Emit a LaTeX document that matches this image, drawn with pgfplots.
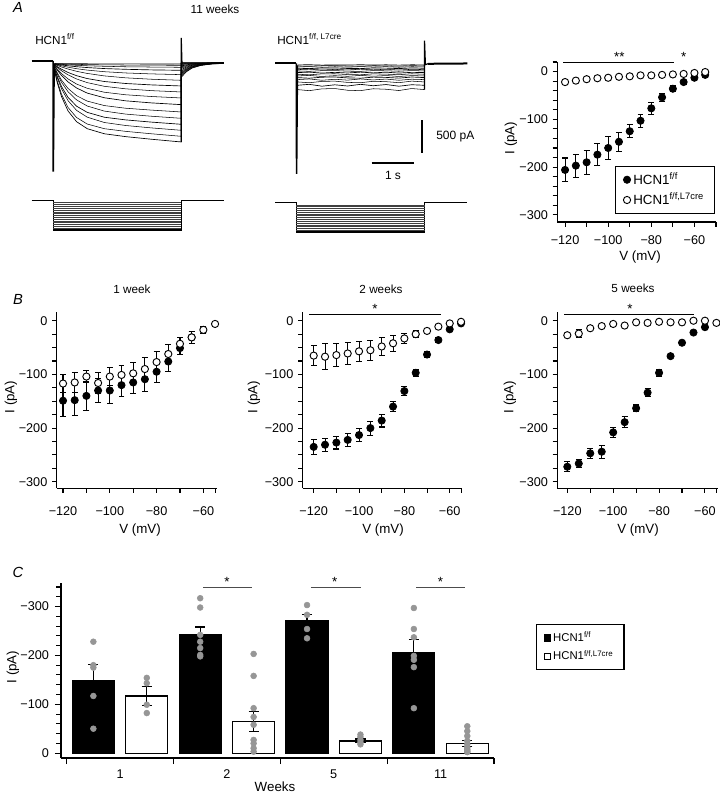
\documentclass[border=0pt]{standalone}
\usepackage{fontspec}
\setmainfont{Liberation Sans}
\usepackage{pgfplots}
\pgfplotsset{compat=1.18}
\usepackage{pgfplotstable}
\definecolor{dotgray}{RGB}{150,150,150}
\newcommand{\fs}[1]{\fontsize{#1}{#1}\selectfont}

\pgfplotsset{
  ivaxis/.style={scale only axis, axis lines=left, axis line style={-, line width=0.8pt},
    tick align=outside, major tick length=3.5pt, minor tick length=3.5pt,
    tick style={line width=0.8pt, black}, clip=false,
    tick label style={font=\fs{9.5}},
    xtick={-120,-100,-80,-60}, xticklabels={−120,−100,−80,−60},
    ytick={-300,-200,-100,0}, yticklabels={−300,−200,−100,0}},
  filledpts/.style={only marks, mark=*, mark size=2.7pt, black, mark options={fill=black, line width=0.6pt},
    error bars/.cd, y dir=both, y explicit, error bar style={line width=0.8pt, black},
    error mark options={rotate=90, mark size=2.2pt, line width=0.8pt, black}},
  openpts/.style={only marks, mark=*, mark size=2.7pt, black, mark options={fill=white, line width=0.7pt},
    error bars/.cd, y dir=both, y explicit, error bar style={line width=0.8pt, black},
    error mark options={rotate=90, mark size=2.2pt, line width=0.8pt, black}},
  traceaxis/.style={scale only axis, hide axis, clip=false, xmin=-0.5, xmax=4, ymin=-1700, ymax=400,
    width=144.2pt, height=105pt, cycle list={{black, mark=none, line width=0.5pt}}},
  voltaxis/.style={scale only axis, hide axis, clip=false, xmin=-0.5, xmax=4, ymin=-125, ymax=-35,
    width=144.2pt, cycle list={{black, mark=none}}},
}

% ---------- data ----------
\pgfplotstableread{
V I E
-120 -206 25
-115 -197 24
-110 -190 25
-105 -174 23
-100 -160 24
-95 -147 20
-90 -125 14
-85 -103 14
-80 -77 12
-75 -54 9
-70 -36 6
-65 -22 4
-60 -13 3
-55 -7 2
}\aF
\pgfplotstableread{
V I E
-120 -22 2
-115 -19 2
-110 -16 2
-105 -14 2
-100 -13 2
-95 -11 2
-90 -10 2
-85 -8 2
-80 -8 2
-75 -7 2
-70 -6 2
-65 -5 2
-60 -3 2
-55 -1 2
}\aO
\pgfplotstableread{
V I E
-120 -149 30
-115 -148 29
-110 -140 27
-105 -130 22
-100 -130 24
-95 -120 21
-90 -115 20
-85 -109 22
-80 -95 20
-75 -76 19
-70 -51 12
-65 -31 11
}\bAF
\pgfplotstableread{
V I E
-120 -117 17
-115 -115 19
-110 -104 11
-105 -116 20
-100 -104 17
-95 -101 18
-90 -98 21
-85 -90 21
-80 -77 19
-75 -62 18
-70 -43 12
-65 -31 11
-60 -17 6
-55 -6 3
}\bAO
\pgfplotstableread{
V I E
-120 -235 14
-115 -231 12
-110 -227 12
-105 -222 12
-100 -213 12
-95 -200 13
-90 -186 12
-85 -160 9
-80 -131 8
-75 -97 7
-70 -63 5
-65 -36 4
-60 -16 3
-55 -5 2
}\bBF
\pgfplotstableread{
V I E
-120 -65 19
-115 -67 24
-110 -64 22
-105 -61 20
-100 -57 19
-95 -55 19
-90 -48 17
-85 -42 15
-80 -33 9
-75 -25 7
-70 -19 4
-65 -11 3
-60 -5 2
-55 -2 2
}\bBO
\pgfplotstableread{
V I E
-120 -272 9
-115 -266 8
-110 -247 9
-105 -244 12
-100 -208 9
-95 -189 10
-90 -163 6
-85 -134 8
-80 -97 7
-75 -66 5
-70 -41 3
-65 -22 3
-60 -12 2
}\bCF
\pgfplotstableread{
V I E
-120 -27 3
-115 -24 8
-110 -14 3
-105 -10 2
-100 -6 2
-95 -9 2
-90 -3 2
-85 -4 2
-80 -2 2
-75 -3 2
-70 -3 2
-65 0 2
-60 0 2
-55 -4 2
}\bCO
\pgfplotstableread{
x y e
-0.25 -149 32
0.75 -242 16
1.75 -271 13
2.75 -206 26
}\cF
\pgfplotstableread{
x y e
0.25 -117 19
1.25 -65 20
2.25 -25 4
3.25 -20 6
}\cO
\pgfplotstableread{
x y
-0.25 -228
-0.25 -180
-0.25 -175
-0.25 -117
-0.25 -50
0.25 -154
0.25 -143
0.25 -99
0.25 -82
0.75 -317
0.75 -298
0.75 -242
0.75 -228
0.75 -215
0.75 -201
0.75 -198
1.25 -203
1.25 -158
1.25 -92
1.25 -74
1.25 -58
1.25 -27
1.25 -20
1.25 -10
1.25 -3
1.75 -303
1.75 -283
1.75 -254
1.75 -235
2.25 -38
2.25 -33
2.25 -27
2.25 -22
2.25 -18
2.75 -297
2.75 -254
2.75 -237
2.75 -199
2.75 -191
2.75 -176
2.75 -92
3.25 -55
3.25 -45
3.25 -35
3.25 -25
3.25 -18
3.25 -12
3.25 -8
3.25 -5
3.25 -3
3.25 -2
}\cD

\begin{document}
\begin{tikzpicture}[x=0.75pt, y=-0.75pt]
\path[use as bounding box] (0,0) rectangle (720,799);

% ---------------- texts ----------------
\node[font=\fs{11}\itshape] at (18,7) {A};
\node[font=\fs{8.8}] at (215,9) {11 weeks};
\node[anchor=base west, font=\fs{8.8}, inner sep=0] at (35,45) {HCN1\textsuperscript{f/f}};
\node[anchor=base west, font=\fs{8.8}, inner sep=0] at (277,45) {HCN1\textsuperscript{f/f, L7cre}};
\node[anchor=west, font=\fs{9}, inner sep=0] at (436,137) {500 pA};
\node[font=\fs{9}] at (393,175) {1 s};
\draw[line width=1.5pt] (421.7,120) -- (421.7,153.3);
\draw[line width=1.5pt] (371.7,162.7) -- (414.3,162.7);

\node[font=\fs{11}\itshape] at (18,299) {B};
\node[font=\fs{8.8}] at (132,289) {1 week};
\node[font=\fs{8.8}] at (381,289) {2 weeks};
\node[font=\fs{8.8}] at (633,288) {5 weeks};
\node[font=\fs{11}\itshape] at (18,572) {C};

\node[font=\fs{10}, rotate=90] at (511,138) {I (pA)};
\node[font=\fs{10}] at (640,257.5) {V (mV)};
\node[font=\fs{10}, rotate=90] at (11,397) {I (pA)};
\node[font=\fs{10}, rotate=90] at (254,397) {I (pA)};
\node[font=\fs{10}, rotate=90] at (510,397) {I (pA)};
\node[font=\fs{10}] at (140,530) {V (mV)};
\node[font=\fs{10}] at (383,530) {V (mV)};
\node[font=\fs{10}] at (638,530) {V (mV)};
\node[font=\fs{10}, rotate=90] at (13,667) {I (pA)};
\node[font=\fs{10}] at (275,787) {Weeks};

% ---------------- A: traces HCN1 f/f ----------------
\begin{axis}[traceaxis, at={(31.7*0.75pt,-174.3*0.75pt)}, anchor=south west]
\addplot[black, line width=1.5pt] coordinates {(-0.5,0)(0,0)};
\addplot[black, line width=1.2pt] coordinates {(0,0)(0.005,-1660)(0.025,-45)};
\addplot coordinates {(0.03,-136)(0.1,-329)(0.2,-538)(0.35,-749)(0.55,-911)(0.8,-1016)(1.2,-1092)(1.7,-1135)(2.3,-1174)(3.0,-1215)(3.0,-243)(3.12,-162)(3.25,-107)(3.45,-68)(3.7,-45)(4.0,-34)};
\addplot coordinates {(0.03,-129)(0.1,-308)(0.2,-502)(0.35,-697)(0.55,-848)(0.8,-946)(1.2,-1016)(1.7,-1056)(2.3,-1092)(3.0,-1130)(3.0,-226)(3.12,-152)(3.25,-101)(3.45,-65)(3.7,-44)(4.0,-34)};
\addplot coordinates {(0.03,-111)(0.1,-257)(0.2,-420)(0.35,-595)(0.55,-741)(0.8,-843)(1.2,-923)(1.7,-968)(2.3,-1004)(3.0,-1040)(3.0,-208)(3.12,-140)(3.25,-94)(3.45,-62)(3.7,-42)(4.0,-34)};
\addplot coordinates {(0.03,-105)(0.1,-237)(0.2,-386)(0.35,-545)(0.55,-678)(0.8,-771)(1.2,-844)(1.7,-884)(2.3,-917)(3.0,-950)(3.0,-190)(3.12,-129)(3.25,-88)(3.45,-59)(3.7,-41)(4.0,-33)};
\addplot coordinates {(0.03,-92)(0.1,-198)(0.2,-322)(0.35,-461)(0.55,-584)(0.8,-676)(1.2,-752)(1.7,-797)(2.3,-829)(3.0,-860)(3.0,-172)(3.12,-118)(3.25,-81)(3.45,-56)(3.7,-40)(4.0,-33)};
\addplot coordinates {(0.03,-86)(0.1,-180)(0.2,-289)(0.35,-412)(0.55,-521)(0.8,-602)(1.2,-669)(1.7,-709)(2.3,-737)(3.0,-765)(3.0,-153)(3.12,-106)(3.25,-74)(3.45,-52)(3.7,-39)(4.0,-32)};
\addplot coordinates {(0.03,-71)(0.1,-138)(0.2,-219)(0.35,-314)(0.55,-405)(0.8,-482)(1.2,-552)(1.7,-598)(2.3,-629)(3.0,-655)(3.0,-131)(3.12,-93)(3.25,-66)(3.45,-48)(3.7,-37)(4.0,-32)};
\addplot coordinates {(0.03,-66)(0.1,-122)(0.2,-190)(0.35,-269)(0.55,-346)(0.8,-410)(1.2,-469)(1.7,-507)(2.3,-533)(3.0,-555)(3.0,-111)(3.12,-80)(3.25,-59)(3.45,-45)(3.7,-36)(4.0,-32)};
\addplot coordinates {(0.03,-58)(0.1,-98)(0.2,-148)(0.35,-208)(0.55,-270)(0.8,-325)(1.2,-380)(1.7,-418)(2.3,-445)(3.0,-465)(3.0,-93)(3.12,-69)(3.25,-53)(3.45,-41)(3.7,-34)(4.0,-31)};
\addplot coordinates {(0.03,-54)(0.1,-86)(0.2,-125)(0.35,-172)(0.55,-221)(0.8,-264)(1.2,-308)(1.7,-338)(2.3,-359)(3.0,-375)(3.0,-75)(3.12,-58)(3.25,-46)(3.45,-38)(3.7,-33)(4.0,-31)};
\addplot coordinates {(0.03,-49)(0.1,-67)(0.2,-91)(0.35,-121)(0.55,-155)(0.8,-187)(1.2,-224)(1.7,-253)(2.3,-274)(3.0,-290)(3.0,-58)(3.12,-47)(3.25,-40)(3.45,-35)(3.7,-32)(4.0,-31)};
\addplot coordinates {(0.03,-46)(0.1,-58)(0.2,-73)(0.35,-93)(0.55,-116)(0.8,-137)(1.2,-161)(1.7,-180)(2.3,-194)(3.0,-205)(3.0,-41)(3.12,-37)(3.25,-34)(3.45,-32)(3.7,-31)(4.0,-30)};
\addplot coordinates {(0.03,-43)(0.1,-51)(0.2,-60)(0.35,-72)(0.55,-86)(0.8,-99)(1.2,-114)(1.7,-125)(2.3,-134)(3.0,-140)(3.0,-30)(4.0,-30)};
\addplot coordinates {(0.03,-42)(0.1,-46)(0.2,-51)(0.35,-58)(0.55,-65)(0.8,-72)(1.2,-80)(1.7,-87)(2.3,-91)(3.0,-95)(3.0,-30)(4.0,-30)};
\addplot coordinates {(0.03,-41)(0.1,-43)(0.2,-45)(0.35,-48)(0.55,-51)(0.8,-55)(1.2,-58)(1.7,-61)(2.3,-63)(3.0,-65)(3.0,-30)(4.0,-30)};
\addplot coordinates {(0.03,-40)(0.2,-41)(0.8,-43)(1.7,-44)(3.0,-45)(3.0,-30)(4.0,-30)};
\addplot[black, line width=0.9pt] coordinates {(3.0,-1215)(3.0,345)(3.02,-100)};
\addplot[black, line width=1.3pt] coordinates {(3.6,-38)(4.0,-30)};
\end{axis}

% ---------------- A: traces HCN1 f/f, L7cre ----------------
\begin{axis}[traceaxis, at={(275*0.75pt,-176.6*0.75pt)}, anchor=south west]
\addplot[black, line width=1.5pt] coordinates {(-0.5,0)(0,0)};
\addplot[black, line width=1.2pt] coordinates {(0,0)(0.005,-1660)(0.025,-30)};
\addplot coordinates {(0.03,-25)(0.3,-22)(0.6,-28)(0.9,-24)(1.2,-27)(1.5,-22)(1.8,-27)(2.1,-23)(2.4,-28)(2.7,-23)(3.0,-25)};
\addplot coordinates {(0.03,-40)(0.3,-44)(0.6,-37)(0.9,-36)(1.2,-42)(1.5,-44)(1.8,-37)(2.1,-39)(2.4,-44)(2.7,-36)(3.0,-40)};
\addplot coordinates {(0.03,-55)(0.3,-50)(0.6,-60)(0.9,-52)(1.2,-59)(1.5,-50)(1.8,-57)(2.1,-51)(2.4,-60)(2.7,-52)(3.0,-55)};
\addplot coordinates {(0.03,-75)(0.3,-80)(0.6,-71)(0.9,-70)(1.2,-78)(1.5,-80)(1.8,-71)(2.1,-73)(2.4,-80)(2.7,-70)(3.0,-75)};
\addplot coordinates {(0.03,-95)(0.3,-89)(0.6,-101)(0.9,-92)(1.2,-100)(1.5,-89)(1.8,-98)(2.1,-90)(2.4,-101)(2.7,-91)(3.0,-95)};
\addplot coordinates {(0.03,-115)(0.3,-121)(0.6,-111)(0.9,-109)(1.2,-119)(1.5,-121)(1.8,-110)(2.1,-113)(2.4,-120)(2.7,-109)(3.0,-115)};
\addplot coordinates {(0.03,-140)(0.3,-133)(0.6,-147)(0.9,-136)(1.2,-146)(1.5,-133)(1.8,-144)(2.1,-134)(2.4,-147)(2.7,-136)(3.0,-140)};
\addplot coordinates {(0.03,-165)(0.3,-173)(0.6,-159)(0.9,-157)(1.2,-170)(1.5,-173)(1.8,-159)(2.1,-163)(2.4,-172)(2.7,-157)(3.0,-165)};
\addplot coordinates {(0.03,-190)(0.3,-182)(0.6,-198)(0.9,-186)(1.2,-196)(1.5,-182)(1.8,-194)(2.1,-184)(2.4,-198)(2.7,-185)(3.0,-190)};
\addplot coordinates {(0.03,-215)(0.3,-224)(0.6,-209)(0.9,-206)(1.2,-220)(1.5,-224)(1.8,-208)(2.1,-212)(2.4,-223)(2.7,-206)(3.0,-215)};
\addplot coordinates {(0.03,-245)(0.3,-235)(0.6,-255)(0.9,-240)(1.2,-253)(1.5,-235)(1.8,-250)(2.1,-237)(2.4,-255)(2.7,-239)(3.0,-245)};
\addplot coordinates {(0.03,-280)(0.3,-292)(0.6,-272)(0.9,-268)(1.2,-287)(1.5,-292)(1.8,-270)(2.1,-276)(2.4,-291)(2.7,-268)(3.0,-280)};
\addplot coordinates {(0.03,-330)(0.3,-316)(0.6,-344)(0.9,-323)(1.2,-341)(1.5,-316)(1.8,-337)(2.1,-319)(2.4,-344)(2.7,-322)(3.0,-330)};
\addplot coordinates {(0.03,-395)(0.3,-411)(0.6,-384)(0.9,-379)(1.2,-405)(1.5,-411)(1.8,-382)(2.1,-390)(2.4,-409)(2.7,-379)(3.0,-395)};
\addplot[black, line width=0.9pt] coordinates {(3.0,-395)(3.0,340)(3.02,-20)(3.08,-8)};
\addplot[black, line width=1.5pt] coordinates {(3.08,-8)(4.0,-3)};
\end{axis}

% ---------------- A: voltage protocols ----------------
\begin{axis}[voltaxis, at={(31.7*0.75pt,-231.8*0.75pt)}, anchor=south west, height=24.7pt]
\addplot[black, line width=0.8pt] coordinates {(-0.5,-40)(0,-40)(0,-120)(3,-120)(3,-40)(4,-40)};
\addplot[black!75, line width=0.25pt, unbounded coords=jump] coordinates {(0,-45)(3,-45)(0,nan)(0,-50)(3,-50)(0,nan)(0,-55)(3,-55)(0,nan)(0,-60)(3,-60)(0,nan)(0,-65)(3,-65)(0,nan)(0,-70)(3,-70)(0,nan)(0,-75)(3,-75)(0,nan)(0,-80)(3,-80)(0,nan)(0,-85)(3,-85)(0,nan)(0,-90)(3,-90)(0,nan)(0,-95)(3,-95)(0,nan)(0,-100)(3,-100)(0,nan)(0,-105)(3,-105)(0,nan)(0,-110)(3,-110)(0,nan)(0,-115)(3,-115)};
\end{axis}
\begin{axis}[voltaxis, at={(275*0.75pt,-233.8*0.75pt)}, anchor=south west, height=24.5pt]
\addplot[black, line width=0.8pt] coordinates {(-0.5,-40)(0,-40)(0,-120)(3,-120)(3,-40)(4,-40)};
\addplot[black!75, line width=0.25pt, unbounded coords=jump] coordinates {(0,-45)(3,-45)(0,nan)(0,-50)(3,-50)(0,nan)(0,-55)(3,-55)(0,nan)(0,-60)(3,-60)(0,nan)(0,-65)(3,-65)(0,nan)(0,-70)(3,-70)(0,nan)(0,-75)(3,-75)(0,nan)(0,-80)(3,-80)(0,nan)(0,-85)(3,-85)(0,nan)(0,-90)(3,-90)(0,nan)(0,-95)(3,-95)(0,nan)(0,-100)(3,-100)(0,nan)(0,-105)(3,-105)(0,nan)(0,-110)(3,-110)(0,nan)(0,-115)(3,-115)};
\end{axis}

% ---------------- A: I-V 11 weeks ----------------
\begin{axis}[ivaxis, at={(557.3*0.75pt,-222*0.75pt)}, anchor=south west, width=119pt, height=120pt,
  xmin=-123.6, xmax=-50, ymin=-315, ymax=20,
  xticklabel style={yshift=-3.5pt},
  minor xtick={-110,-90,-70,-50},
  minor ytick={-280,-260,-240,-220,-180,-160,-140,-120,-80,-60,-40,-20,20},
  legend style={at={(0.995,0.05)}, anchor=south east, draw=black, line width=0.8pt, font=\fs{10}, row sep=1pt, inner xsep=6pt, inner ysep=3pt},
  legend cell align=left]
\addplot[filledpts] table[x=V, y=I, y error=E] {\aF};
\addlegendentry{HCN1\textsuperscript{f/f}}
\addplot[openpts] table[x=V, y=I, y error=E] {\aO};
\addlegendentry{HCN1\textsuperscript{f/f,L7cre}}
\draw[line width=0.8pt] (axis cs:-120.8,19) -- (axis cs:-69.3,19);
\node[anchor=base, font=\fs{10}, inner sep=0] at (axis cs:-94.8,21) {**};
\node[anchor=base, font=\fs{10}, inner sep=0] at (axis cs:-65,21) {*};
\end{axis}

% ---------------- B: 1 week ----------------
\begin{axis}[ivaxis, at={(56.7*0.75pt,-488.2*0.75pt)}, anchor=south west, width=120pt, height=132.45pt,
  xmin=-122.7, xmax=-54.3, ymin=-312, ymax=17, xticklabel style={yshift=-6.5pt},
  minor xtick={-110,-90,-70,-55},
  minor ytick={-275,-250,-225,-175,-150,-125,-75,-50,-25}]
\addplot[filledpts] table[x=V, y=I, y error=E] {\bAF};
\addplot[openpts] table[x=V, y=I, y error=E] {\bAO};
\end{axis}

% ---------------- B: 2 weeks ----------------
\begin{axis}[ivaxis, at={(302.7*0.75pt,-488.2*0.75pt)}, anchor=south west, width=119.6pt, height=132.45pt,
  xmin=-124.85, xmax=-54.5, ymin=-312, ymax=17, xticklabel style={yshift=-6.5pt},
  minor xtick={-110,-90,-70,-55},
  minor ytick={-275,-250,-225,-175,-150,-125,-75,-50,-25}]
\addplot[filledpts] table[x=V, y=I, y error=E] {\bBF};
\addplot[openpts] table[x=V, y=I, y error=E] {\bBO};
\draw[line width=0.8pt] (axis cs:-121.9,12) -- (axis cs:-63.8,12);
\node[anchor=base, font=\fs{10}, inner sep=0] at (axis cs:-93,14) {*};
\end{axis}

% ---------------- B: 5 weeks ----------------
\begin{axis}[ivaxis, at={(557.3*0.75pt,-488.2*0.75pt)}, anchor=south west, width=120.2pt, height=132.45pt,
  xmin=-124.36, xmax=-54.5, ymin=-312, ymax=17, xticklabel style={yshift=-6.5pt},
  minor xtick={-110,-90,-70,-55},
  minor ytick={-275,-250,-225,-175,-150,-125,-75,-50,-25}]
\addplot[filledpts] table[x=V, y=I, y error=E] {\bCF};
\addplot[openpts] table[x=V, y=I, y error=E] {\bCO};
\draw[line width=0.8pt] (axis cs:-121.4,12) -- (axis cs:-64.6,12);
\node[anchor=base, font=\fs{10}, inner sep=0] at (axis cs:-92.7,14) {*};
\end{axis}

% ---------------- C: bar chart ----------------
\begin{axis}[scale only axis, at={(61*0.75pt,-758*0.75pt)}, anchor=south west, width=324.75pt, height=131.2pt,
  xmin=-0.553, xmax=3.5, ymin=-348, ymax=10, y dir=reverse,
  axis x line*=bottom, axis y line*=left, axis line style={-, line width=0.8pt},
  tick align=outside, major tick length=4.5pt, minor tick length=3.5pt,
  tick style={line width=0.8pt, black}, clip=false,
  tick label style={font=\fs{9.5}},
  ytick={-300,-200,-100,0}, yticklabels={−300,−200,−100,0},
  yticklabel style={xshift=-1pt},
  minor ytick={-340,-320,-280,-260,-240,-220,-180,-160,-140,-120,-80,-60,-40,-20},
  xtick={-0.5,0.5,1.5,2.5,3.5}, xticklabels={},
  extra x ticks={0,1,2,3}, extra x tick labels={1,2,5,11},
  extra x tick style={major tick length=0pt, xticklabel style={yshift=-5pt}},
  legend style={at={(1.096,0.768)}, anchor=north west, draw=black, line width=0.8pt, font=\fs{8.5}, row sep=1pt, inner xsep=6pt, inner ysep=4pt},
  legend cell align=left]
\addlegendimage{only marks, mark=square*, mark size=2.4pt, black}
\addlegendentry{HCN1\textsuperscript{f/f}}
\addlegendimage{only marks, mark=square*, mark size=2.4pt, black, mark options={fill=white, line width=0.5pt}}
\addlegendentry{HCN1\textsuperscript{f/f,L7cre}}
\addplot[ybar, bar width=31.5pt, bar shift=0pt, fill=black, draw=black, line width=0.9pt] table[x=x, y=y] {\cF};
\addplot[ybar, bar width=31.5pt, bar shift=0pt, fill=white, draw=black, line width=0.9pt] table[x=x, y=y] {\cO};
\addplot[only marks, mark=*, mark size=2.2pt, dotgray, mark options={draw=none, fill=dotgray}] table[x=x, y=y] {\cD};
\addplot[draw=none, mark=none, error bars/.cd, y dir=both, y explicit, error bar style={draw=black, line width=0.9pt}, error mark options={rotate=90, mark size=3.8pt, line width=0.9pt, draw=black}] table[x=x, y=y, y error=e] {\cF};
\addplot[draw=none, mark=none, error bars/.cd, y dir=both, y explicit, error bar style={draw=black, line width=0.9pt}, error mark options={rotate=90, mark size=3.8pt, line width=0.9pt, draw=black}] table[x=x, y=y, y error=e] {\cO};
\draw[line width=0.9pt, black!70] (axis cs:0.777,-339) -- (axis cs:1.237,-339);
\draw[line width=0.9pt, black!70] (axis cs:1.787,-339) -- (axis cs:2.255,-339);
\draw[line width=0.9pt, black!70] (axis cs:2.774,-339) -- (axis cs:3.233,-339);
\node[anchor=base, font=\fs{10}, inner sep=0] at (axis cs:1.0,-342) {*};
\node[anchor=base, font=\fs{10}, inner sep=0] at (axis cs:2.01,-342) {*};
\node[anchor=base, font=\fs{10}, inner sep=0] at (axis cs:3.0,-342) {*};
\end{axis}
\end{tikzpicture}
\end{document}
